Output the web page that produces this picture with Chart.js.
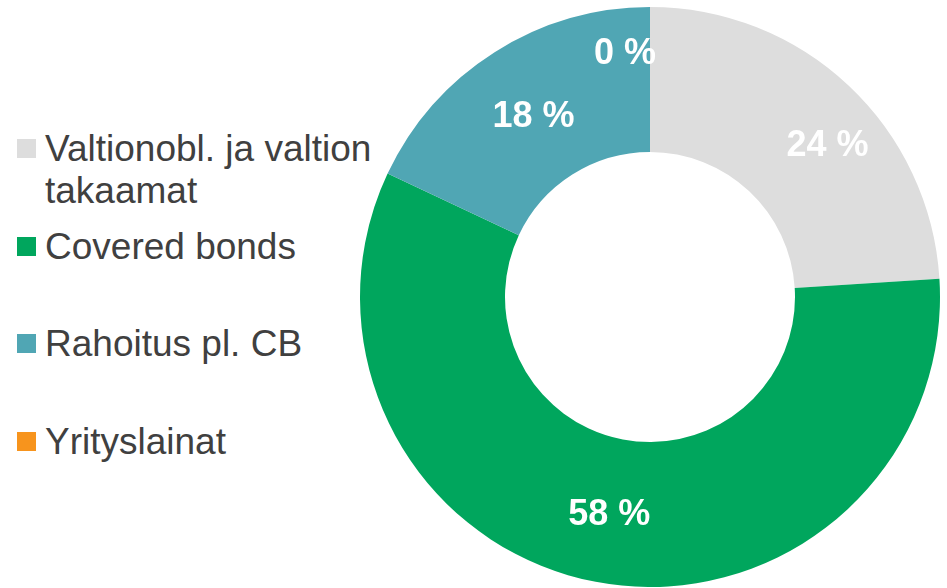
<!DOCTYPE html>
<html>
<head>
<meta charset="utf-8">
<script src="https://cdn.jsdelivr.net/npm/chart.js@4"></script>
<style>
  body { margin: 0; width: 947px; height: 588px; background: #fff; overflow: hidden; position: relative; font-family: "Liberation Sans", Arial, sans-serif; }
  #chartBox { position: absolute; left: 360px; top: 7px; width: 580px; height: 580px; }
  .legendItem { position: absolute; left: 17px; color: #404040; font-size: 37px; line-height: 42px; }
  .legendItem .box { position: absolute; left: 0; width: 19px; height: 19px; }
  .legendItem .txt { position: absolute; left: 28px; white-space: nowrap; }
</style>
</head>
<body>
<div id="legend"></div>
<div id="chartBox"><canvas id="canvas"></canvas></div>
<script>
const categories = ['Valtionobl. ja valtion|takaamat', 'Covered bonds', 'Rahoitus pl. CB', 'Yrityslainat'];
const shares = [24, 58, 18, 0];
const colors = ['#DDDDDD', '#00A65D', '#50A6B4', '#F7941D'];

// legend rows, built as html
const legendTops = [128, 226, 323, 421];
const legend = document.getElementById('legend');
categories.forEach((name, i) => {
    const item = document.createElement('div');
    item.className = 'legendItem';
    item.style.top = legendTops[i] + 'px';
    const box = document.createElement('div');
    box.className = 'box';
    box.style.background = colors[i];
    box.style.top = '11px';
    const txt = document.createElement('div');
    txt.className = 'txt';
    txt.innerHTML = name.split('|').join('<br>');
    item.appendChild(box);
    item.appendChild(txt);
    legend.appendChild(item);
});

// white percentage labels in the middle of each ring segment
const sliceLabels = {
    id: 'sliceLabels',
    afterDatasetsDraw(chart) {
        const ctx = chart.ctx;
        const meta = chart.getDatasetMeta(0);
        ctx.save();
        ctx.fillStyle = '#ffffff';
        ctx.font = 'bold 36px "Liberation Sans", Arial, sans-serif';
        ctx.textAlign = 'center';
        ctx.textBaseline = 'middle';
        meta.data.forEach((arc, i) => {
            let mid = (arc.startAngle + arc.endAngle) / 2;
            let r = (arc.innerRadius + arc.outerRadius) / 2;
            let dx = 0;
            if (shares[i] < 1) { r = arc.outerRadius * 0.85; dx = -25; }
            if (shares[i] > 20 && shares[i] < 30) { r += 18; mid += 0.1; } // excel pushes this one out a bit
            const x = arc.x + Math.cos(mid) * r + dx;
            const y = arc.y + Math.sin(mid) * r + 4;
            ctx.fillText(shares[i] + ' %', x, y);
        });
        ctx.restore();
    }
};

new Chart(document.getElementById('canvas'), {
    type: 'doughnut',
    data: {
        labels: categories.map(c => c.replace('|', ' ')),
        datasets: [{
            data: shares,
            backgroundColor: colors,
            borderWidth: 0
        }]
    },
    options: {
        responsive: true,
        maintainAspectRatio: false,
        animation: false,
        cutout: '50%',
        layout: { padding: 0 },
        plugins: {
            legend: { display: false },
            tooltip: { enabled: false }
        }
    },
    plugins: [sliceLabels]
});
</script>
</body>
</html>
